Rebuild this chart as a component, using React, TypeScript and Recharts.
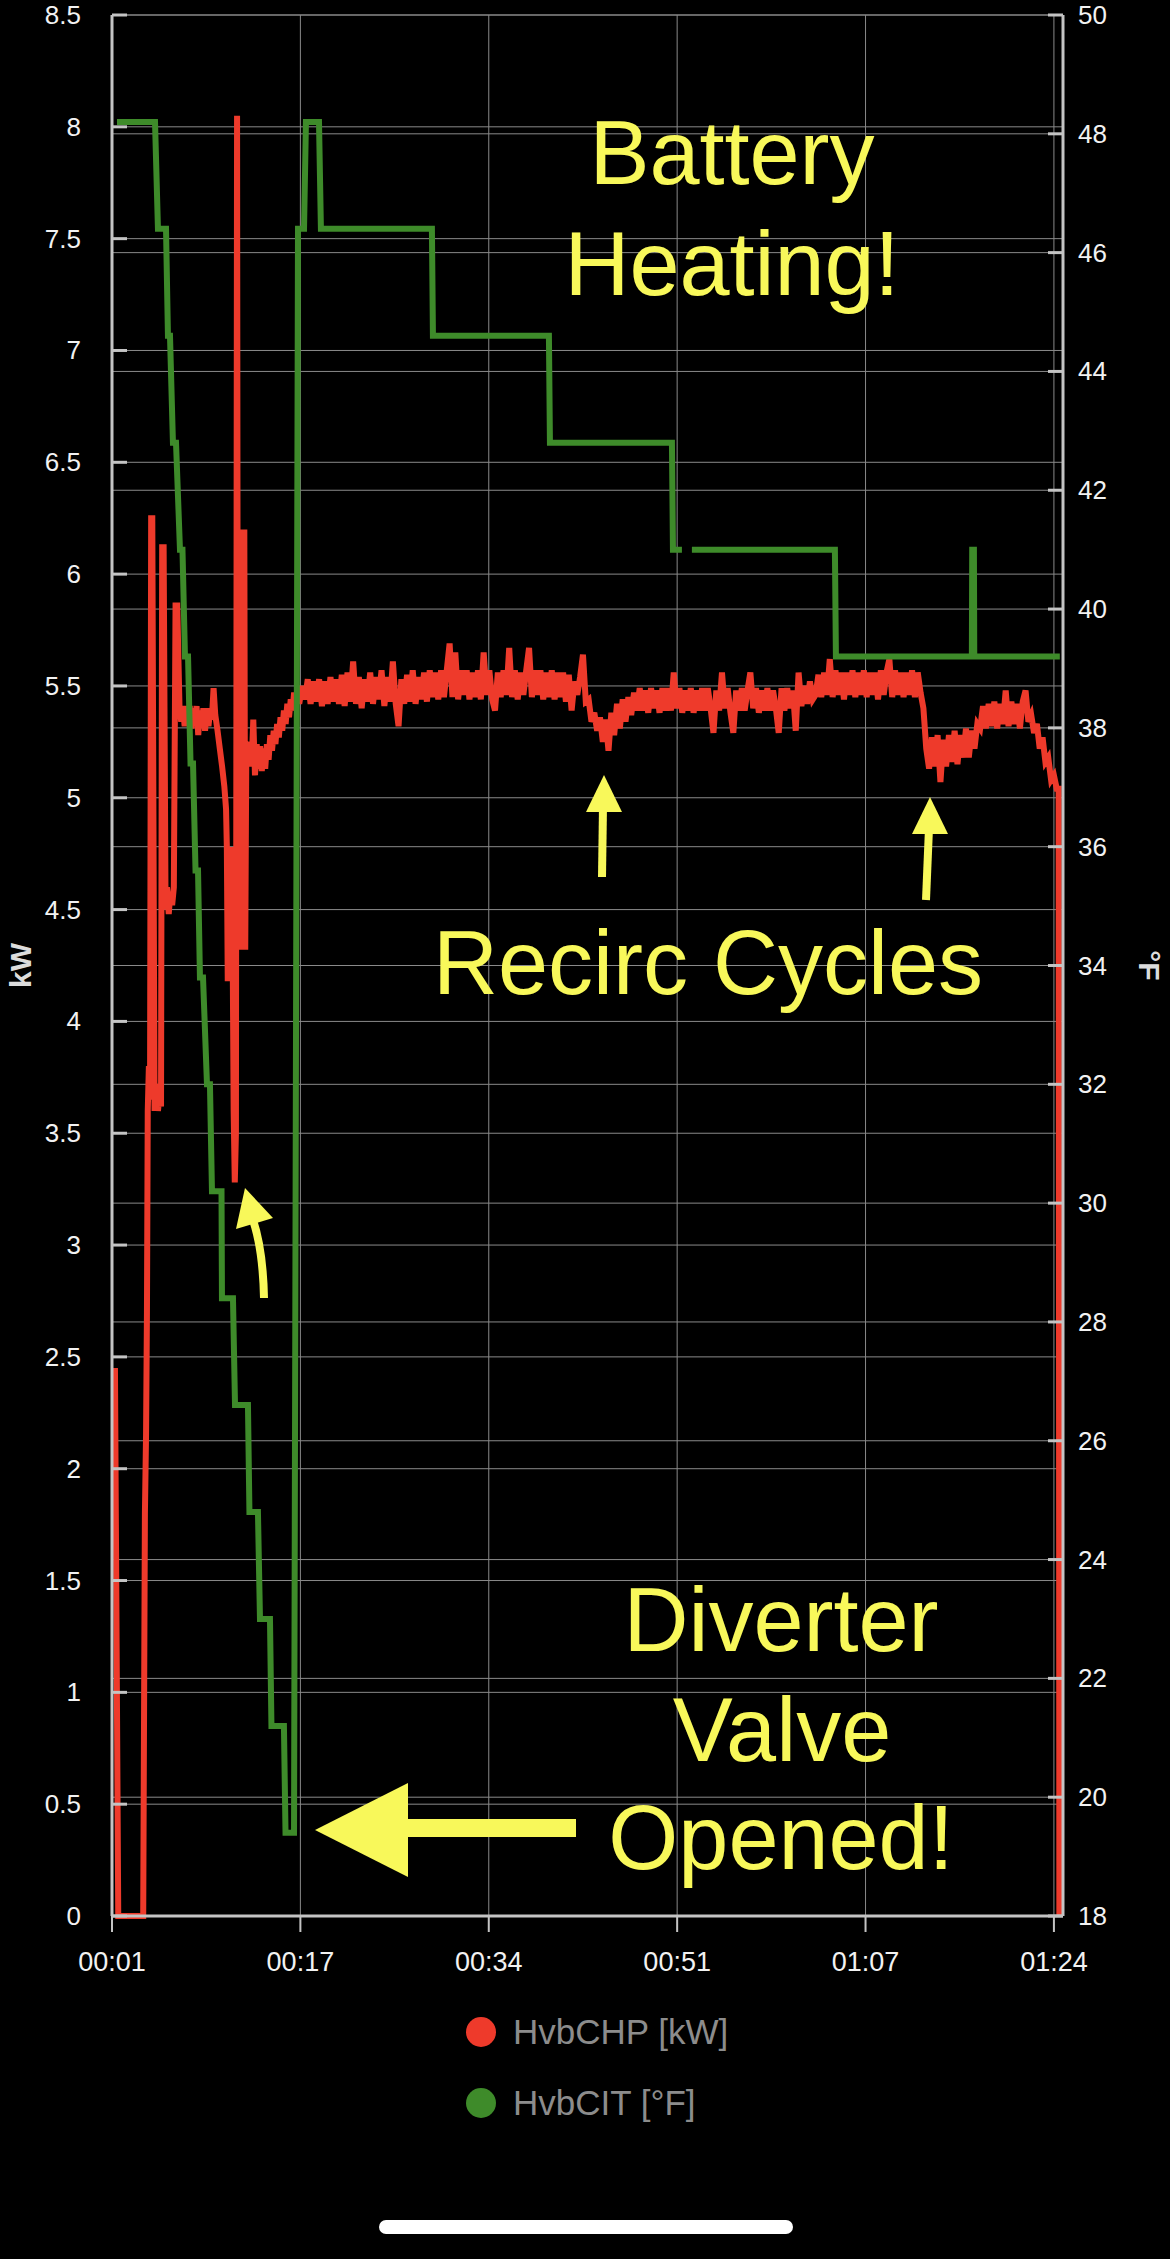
import { CartesianGrid, Label, Line, LineChart, XAxis, YAxis } from "recharts";

// x axis is minutes since start of the log
const timeTicks = [1, 17.6, 34.2, 50.8, 67.4, 84];
const timeLabels = ["00:01", "00:17", "00:34", "00:51", "01:07", "01:24"];
const kwTicks = [0, 0.5, 1, 1.5, 2, 2.5, 3, 3.5, 4, 4.5, 5, 5.5, 6, 6.5, 7, 7.5, 8, 8.5];
const degTicks = [18, 20, 22, 24, 26, 28, 30, 32, 34, 36, 38, 40, 42, 44, 46, 48, 50];

// HvbCHP [kW] during start-up: [minute, kW]
const chpStartup: [number, number][] = [
  [1.26, 2.45], [1.55, 0], [3.75, 0], [3.9, 1.8], [4.0, 2.15], [4.08, 2.7], [4.15, 3.6], [4.25, 3.8], [4.35, 3.65],
  [4.45, 6.25], [4.55, 6.25], [4.75, 3.6], [4.9, 3.72], [5.05, 3.6], [5.2, 3.68], [5.32, 3.62], [5.42, 6.12], [5.55, 6.12],
  [5.72, 4.5], [5.85, 4.6], [6.0, 4.48], [6.15, 4.58], [6.3, 4.52], [6.45, 4.6], [6.6, 5.86], [6.75, 5.86], [6.95, 5.4],
  [7.1, 5.34], [7.25, 5.41], [7.4, 5.32], [7.55, 5.41], [7.7, 5.34], [7.85, 5.41], [8.0, 5.31], [8.15, 5.4], [8.3, 5.32],
  [8.45, 5.41], [8.6, 5.28], [8.75, 5.39], [8.9, 5.32], [9.05, 5.4], [9.2, 5.3], [9.35, 5.4], [9.5, 5.32], [9.65, 5.39],
  [9.8, 5.35], [9.95, 5.49], [10.1, 5.37], [10.3, 5.3], [10.5, 5.22], [10.7, 5.14], [10.9, 5.05], [11.05, 4.95],
  [11.12, 4.78], [11.2, 4.18], [11.28, 4.78], [11.36, 4.18], [11.44, 4.78], [11.52, 4.2], [11.6, 4.6], [11.72, 3.6],
  [11.82, 3.28], [11.92, 3.5], [12.02, 8.05], [12.1, 4.32], [12.18, 6.2], [12.26, 4.32], [12.34, 6.2], [12.42, 4.32],
  [12.5, 6.2], [12.58, 4.32], [12.66, 6.2], [12.74, 4.32], [12.84, 5.25], [13.0, 5.16], [13.15, 5.25], [13.3, 5.14],
  [13.45, 5.35], [13.6, 5.1], [13.75, 5.24], [13.9, 5.13], [14.05, 5.23], [14.2, 5.12], [14.35, 5.22], [14.5, 5.13],
  [14.65, 5.24], [14.8, 5.17], [14.95, 5.28], [15.1, 5.21], [15.25, 5.3], [15.4, 5.24], [15.55, 5.33], [15.7, 5.27],
  [15.85, 5.36], [16.0, 5.3], [16.15, 5.39], [16.3, 5.33], [16.45, 5.42], [16.6, 5.36], [16.75, 5.44], [16.9, 5.39],
  [17.05, 5.47], [17.2, 5.41], [17.35, 5.5],
];

// steady heating, one sample every 15 s from minute 17.5
const RUN_START = 17.5;
const RUN_STEP = 0.25;
const chpRunA = [
  5.42, 5.5, 5.44, 5.53, 5.42, 5.52, 5.43, 5.53, 5.41, 5.52,
  5.42, 5.54, 5.43, 5.53, 5.42, 5.55, 5.41, 5.56, 5.43, 5.61,
  5.42, 5.54, 5.4, 5.53, 5.43, 5.56, 5.42, 5.54, 5.44, 5.57,
  5.41, 5.54, 5.43, 5.61, 5.42, 5.32, 5.53, 5.42, 5.55, 5.43,
  5.57, 5.42, 5.54, 5.44, 5.56, 5.43, 5.57, 5.45, 5.56, 5.44,
];
const chpRunB = [
  5.57, 5.45, 5.57, 5.69, 5.45, 5.65, 5.44, 5.57, 5.46, 5.57,
  5.44, 5.56, 5.45, 5.57, 5.44, 5.65, 5.46, 5.57, 5.44, 5.39,
  5.56, 5.45, 5.57, 5.46, 5.67, 5.45, 5.57, 5.44, 5.56, 5.46,
  5.57, 5.67, 5.45, 5.57, 5.46, 5.57, 5.44, 5.56, 5.45, 5.57,
  5.44, 5.56, 5.45, 5.56, 5.43, 5.55, 5.39, 5.52,
];
const chpRecirc1 = [
  5.46, 5.54, 5.64, 5.43, 5.44, 5.34, 5.38, 5.3, 5.36, 5.25,
  5.35, 5.21, 5.38, 5.28, 5.42, 5.31, 5.44, 5.34, 5.45, 5.37,
];
const chpRunC = [
  5.47, 5.39, 5.49, 5.39, 5.48, 5.38, 5.49, 5.4, 5.48, 5.38,
  5.49, 5.39, 5.49, 5.39, 5.56, 5.4, 5.49, 5.38, 5.48, 5.39,
  5.49, 5.38, 5.48, 5.39, 5.49, 5.39, 5.49, 5.4, 5.29, 5.48,
  5.39, 5.56, 5.4, 5.49, 5.38, 5.29, 5.48, 5.39, 5.49, 5.39,
  5.48, 5.56, 5.4, 5.49, 5.38, 5.48, 5.39, 5.49, 5.39, 5.48,
  5.4, 5.29, 5.49, 5.39, 5.49, 5.4, 5.48, 5.3, 5.56, 5.41,
  5.5, 5.42, 5.52, 5.44,
];
const chpRunD = [
  5.46, 5.55, 5.45, 5.56, 5.46, 5.62, 5.45, 5.57, 5.46, 5.56,
  5.44, 5.56, 5.46, 5.57, 5.45, 5.56, 5.46, 5.57, 5.45, 5.56,
  5.46, 5.56, 5.44, 5.57, 5.46, 5.56, 5.62, 5.45, 5.57, 5.46,
  5.56, 5.45, 5.56, 5.46, 5.57, 5.45, 5.56, 5.47,
];
const chpRecirc2 = [
  5.4, 5.22, 5.13, 5.27, 5.14, 5.28, 5.07, 5.26, 5.14, 5.28,
  5.16, 5.3, 5.15, 5.28, 5.18, 5.31, 5.18, 5.3, 5.22, 5.33,
];
const chpRunE = [
  5.31, 5.41, 5.31, 5.42, 5.32, 5.43, 5.31, 5.42, 5.33, 5.48,
  5.32, 5.43, 5.33, 5.42, 5.31, 5.43, 5.48, 5.34,
];
const chpTail = [5.37, 5.29, 5.33, 5.22, 5.27, 5.16, 5.18, 5.08, 5.1, 5.04];
const chpShutdown: [number, number][] = [[84.42, 5.04], [84.48, 0]];

// HvbCIT [°F]: [minute, °F], null marks the logging gap
const citPoints: [number, number | null][] = [
  [1.44, 48.2], [4.79, 48.2], [5.05, 46.4], [5.76, 46.4], [5.93, 44.6], [6.11, 44.6], [6.37, 42.8], [6.64, 42.8],
  [6.99, 41.0], [7.21, 41.0], [7.43, 39.2], [7.7, 39.2], [7.92, 37.4], [8.14, 37.4], [8.36, 35.6], [8.58, 35.6],
  [8.75, 33.8], [9.02, 33.8], [9.37, 32.0], [9.63, 32.0], [9.81, 30.2], [10.65, 30.2], [10.69, 28.4], [11.66, 28.4],
  [11.84, 26.6], [12.98, 26.6], [13.11, 24.8], [13.86, 24.8], [14.04, 23.0], [14.92, 23.0], [15.05, 21.2], [16.15, 21.2],
  [16.29, 19.4], [17.04, 19.4], [17.39, 46.4], [17.92, 46.4], [18.09, 48.2], [19.24, 48.2], [19.41, 46.4], [29.19, 46.4],
  [29.28, 44.6], [39.5, 44.6], [39.59, 42.8], [50.34, 42.8], [50.43, 41.0], [51.22, 41.0], [51.6, null], [52.1, 41.0],
  [64.7, 41.0], [64.79, 39.2], [76.77, 39.2], [76.8, 41.0], [76.95, 41.0], [76.98, 39.2], [84.52, 39.2],
];

const runValues = [...chpRunA, ...chpRunB, ...chpRecirc1, ...chpRunC, ...chpRunD, ...chpRecirc2, ...chpRunE, ...chpTail];
const chpData = [
  ...chpStartup.map(([t, kw]) => ({ t, kw })),
  ...runValues.map((kw, i) => ({ t: RUN_START + i * RUN_STEP, kw })),
  ...chpShutdown.map(([t, kw]) => ({ t, kw })),
];
const citData = citPoints.map(([t, f]) => ({ t, f }));

const RED = "#EE3A2B";
const GREEN = "#3E8B2A";
const YELLOW = "#F8F85A";
const AXIS = "#c4c4c4";
const GRID = "#8a8a8a";
const FONT = '"Liberation Sans", Arial, Helvetica, sans-serif';

const KW_GAP = 31;
const DEG_GAP = 15;

function KwTick({ x, y, payload }: any) {
  const ax = x + KW_GAP;
  return (
    <g>
      <line x1={ax} x2={ax + 15} y1={y} y2={y} stroke={AXIS} strokeWidth={3} />
      <text x={x} y={y} dy={9} textAnchor="end" fill="#f2f2f2" fontSize={26}>
        {payload.value}
      </text>
    </g>
  );
}

function DegTick({ x, y, payload }: any) {
  const ax = x - DEG_GAP;
  return (
    <g>
      <line x1={ax - 15} x2={ax} y1={y} y2={y} stroke={AXIS} strokeWidth={3} />
      <text x={x} y={y} dy={9} textAnchor="start" fill="#f2f2f2" fontSize={26}>
        {payload.value}
      </text>
    </g>
  );
}

function axisTitle(text: string, dx: number, angle: number) {
  return (props: any) => {
    const vb = props.viewBox || {};
    const cx = vb.x + dx;
    const cy = vb.y + vb.height / 2;
    return (
      <text
        x={cx}
        y={cy}
        textAnchor="middle"
        dominantBaseline="central"
        transform={`rotate(${angle} ${cx} ${cy})`}
        fill="#dcdcdc"
        fontSize={30}
        fontWeight="bold"
      >
        {text}
      </text>
    );
  };
}

export default function App() {
  return (
    <div
      style={{
        position: "relative",
        width: 1170,
        height: 2259,
        background: "#000",
        overflow: "hidden",
        fontFamily: FONT,
      }}
    >
      <style>{"body{margin:0;background:#000}"}</style>
      <LineChart width={1170} height={2000} margin={{ top: 15, right: 7, left: 12, bottom: 14 }}>
        <CartesianGrid
          yAxisId="kw"
          stroke={GRID}
          strokeWidth={1}
          horizontalValues={kwTicks}
          verticalValues={timeTicks}
          syncWithTicks
        />
        <CartesianGrid yAxisId="deg" stroke={GRID} strokeWidth={1} vertical={false} horizontalValues={degTicks} syncWithTicks />
        <XAxis
          type="number"
          dataKey="t"
          domain={[1, 84.8]}
          ticks={timeTicks}
          interval={0}
          tickFormatter={(v: number) => timeLabels[timeTicks.indexOf(v)] ?? ""}
          height={70}
          tickSize={16}
          tickMargin={20}
          axisLine={{ stroke: AXIS, strokeWidth: 3 }}
          tickLine={{ stroke: AXIS, strokeWidth: 2 }}
          tick={{ fill: "#f2f2f2", fontSize: 27 }}
        />
        <YAxis
          yAxisId="kw"
          domain={[0, 8.5]}
          ticks={kwTicks}
          interval={0}
          width={100}
          tickSize={0}
          tickMargin={KW_GAP}
          axisLine={{ stroke: AXIS, strokeWidth: 3 }}
          tickLine={false}
          tick={<KwTick />}
        >
          <Label content={axisTitle("kW", 8, -90)} />
        </YAxis>
        <YAxis
          yAxisId="deg"
          orientation="right"
          domain={[18, 50]}
          ticks={degTicks}
          interval={0}
          width={100}
          tickSize={0}
          tickMargin={DEG_GAP}
          axisLine={{ stroke: AXIS, strokeWidth: 3 }}
          tickLine={false}
          tick={<DegTick />}
        >
          <Label content={axisTitle("°F", 86, 90)} />
        </YAxis>
        <Line
          yAxisId="kw"
          data={chpData}
          dataKey="kw"
          name="HvbCHP [kW]"
          type="linear"
          stroke={RED}
          strokeWidth={6}
          dot={false}
          isAnimationActive={false}
        />
        <Line
          yAxisId="deg"
          data={citData}
          dataKey="f"
          name="HvbCIT [°F]"
          type="linear"
          stroke={GREEN}
          strokeWidth={6}
          dot={false}
          connectNulls={false}
          isAnimationActive={false}
        />
      </LineChart>

      {/* annotations added on top of the screenshot */}
      <svg
        width={1170}
        height={2259}
        style={{ position: "absolute", left: 0, top: 0, pointerEvents: "none" }}
      >
        <g fill={YELLOW} fontSize={90} textAnchor="middle" fontFamily={FONT}>
          <text x={732} y={184}>Battery</text>
          <text x={732} y={295}>Heating!</text>
          <text x={708} y={994}>Recirc Cycles</text>
          <text x={781} y={1651}>Diverter</text>
          <text x={782} y={1761}>Valve</text>
          <text x={781} y={1869}>Opened!</text>
        </g>
        <path d="M264 1298 Q263 1250 253 1220" stroke={YELLOW} strokeWidth={8} fill="none" />
        <polygon points="245,1188 236,1229 273,1218" fill={YELLOW} />
        <line x1={602} y1={877} x2={603} y2={806} stroke={YELLOW} strokeWidth={8} />
        <polygon points="604,775 586,812 622,812" fill={YELLOW} />
        <line x1={926} y1={900} x2={929} y2={828} stroke={YELLOW} strokeWidth={8} />
        <polygon points="930,797 912,834 948,834" fill={YELLOW} />
        <polygon points="315,1830 408,1783 408,1877" fill={YELLOW} />
        <rect x={406} y={1819} width={170} height={18} fill={YELLOW} />
      </svg>

      {/* legend */}
      {[
        { label: "HvbCHP [kW]", color: RED, top: 2032 },
        { label: "HvbCIT [°F]", color: GREEN, top: 2103 },
      ].map((item) => (
        <div
          key={item.label}
          style={{
            position: "absolute",
            left: 466,
            top: item.top - 22,
            height: 44,
            display: "flex",
            alignItems: "center",
            gap: 17,
          }}
        >
          <span
            style={{
              width: 30,
              height: 30,
              borderRadius: "50%",
              background: item.color,
              display: "inline-block",
            }}
          />
          <span style={{ color: "#8c8c8c", fontSize: 35 }}>{item.label}</span>
        </div>
      ))}

      <div
        style={{
          position: "absolute",
          left: 379,
          top: 2220,
          width: 414,
          height: 14,
          borderRadius: 7,
          background: "#fff",
        }}
      />
    </div>
  );
}
